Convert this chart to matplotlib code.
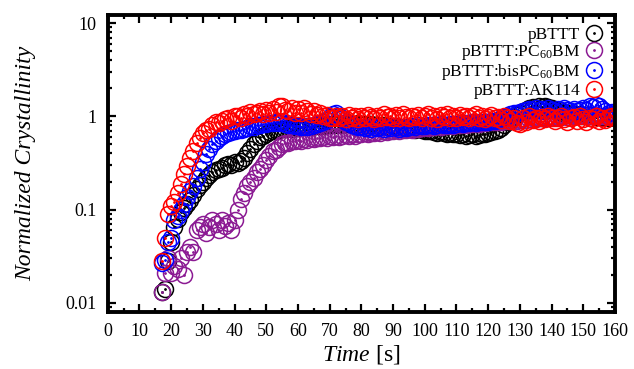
import matplotlib
matplotlib.use('Agg')
import matplotlib.pyplot as plt
from matplotlib.ticker import MultipleLocator, LogLocator, FixedLocator, FixedFormatter

plt.rcParams['font.family'] = ['Liberation Serif', 'DejaVu Serif']
plt.rcParams['mathtext.fontset'] = 'custom'
plt.rcParams['mathtext.rm'] = 'Liberation Serif'
plt.rcParams['mathtext.it'] = 'Liberation Serif:italic'

# time grid (s), one reading per second
time_s = list(range(17, 161))

pbttt = [0.013, 0.014, 0.028, 0.045, 0.065, 0.08, 0.095, 0.105, 0.115, 0.128,
         0.145, 0.165, 0.185, 0.2, 0.22, 0.235, 0.25, 0.265, 0.27, 0.28,
         0.3, 0.31, 0.3, 0.32, 0.315, 0.33, 0.36, 0.4, 0.45, 0.5,
         0.55, 0.6, 0.62, 0.65, 0.68, 0.7, 0.72, 0.71, 0.74, 0.73,
         0.75, 0.74, 0.76, 0.75, 0.77, 0.76, 0.78, 0.77, 0.79, 0.78,
         0.8, 0.79, 0.81, 0.8, 0.82, 0.8, 0.83, 0.81, 0.82, 0.84,
         0.83, 0.82, 0.84, 0.82, 0.83, 0.81, 0.82, 0.8, 0.81, 0.79,
         0.8, 0.78, 0.79, 0.77, 0.78, 0.76, 0.75, 0.76, 0.74, 0.73,
         0.72, 0.73, 0.71, 0.7, 0.69, 0.7, 0.68, 0.67, 0.68, 0.66,
         0.65, 0.66, 0.64, 0.65, 0.63, 0.64, 0.62, 0.63, 0.64, 0.62,
         0.63, 0.64, 0.65, 0.66, 0.68, 0.7, 0.72, 0.75, 0.8, 0.86,
         0.92, 0.98, 1.04, 1.1, 1.15, 1.18, 1.22, 1.25, 1.24, 1.28,
         1.26, 1.3, 1.25, 1.22, 1.18, 1.15, 1.1, 1.12, 1.08, 1.05,
         1.06, 1.03, 1.05, 1.02, 1.04, 1.0, 1.03, 0.99, 1.01, 0.98,
         1.0, 0.97, 0.99, 0.96]

pc60bm = [0.013, 0.021, 0.03, 0.021, 0.025, 0.023, 0.03, 0.02, 0.035, 0.04,
          0.035, 0.06, 0.065, 0.07, 0.056, 0.065, 0.078, 0.07, 0.06, 0.078,
          0.066, 0.072, 0.06, 0.078, 0.1, 0.13, 0.15, 0.18, 0.2, 0.22,
          0.25, 0.27, 0.3, 0.34, 0.38, 0.42, 0.44, 0.47, 0.5, 0.52,
          0.52, 0.55, 0.54, 0.56, 0.55, 0.57, 0.56, 0.58, 0.57, 0.59,
          0.58, 0.6, 0.59, 0.61, 0.6, 0.62, 0.6, 0.61, 0.63, 0.62,
          0.64, 0.62, 0.65, 0.64, 0.66, 0.65, 0.67, 0.66, 0.68, 0.67,
          0.69, 0.68, 0.7, 0.69, 0.71, 0.7, 0.72, 0.71, 0.73, 0.72,
          0.74, 0.73, 0.75, 0.76, 0.75, 0.77, 0.76, 0.78, 0.77, 0.79,
          0.78, 0.8, 0.79, 0.81, 0.8, 0.82, 0.81, 0.83, 0.82, 0.84,
          0.83, 0.85, 0.84, 0.86, 0.87, 0.86, 0.88, 0.87, 0.89, 0.9,
          0.89, 0.91, 0.9, 0.92, 0.93, 0.92, 0.94, 0.95, 0.94, 0.96,
          0.95, 0.97, 0.96, 0.98, 0.97, 0.99, 0.98, 1.0, 0.99, 1.01,
          1.0, 1.02, 1.01, 1.03, 1.0, 1.02, 1.01, 1.03, 1.0, 1.02,
          1.01, 1.03, 1.0, 1.02]

bispc60bm = [0.027, 0.029, 0.045, 0.05, 0.078, 0.085, 0.1, 0.115, 0.135, 0.16,
             0.18, 0.22, 0.27, 0.32, 0.39, 0.45, 0.5, 0.55, 0.58, 0.62,
             0.64, 0.66, 0.68, 0.69, 0.71, 0.72, 0.74, 0.75, 0.78, 0.77,
             0.8, 0.8, 0.82, 0.83, 0.85, 0.84, 0.87, 0.85, 0.86, 0.83,
             0.81, 0.8, 0.78, 0.79, 0.77, 0.78, 0.76, 0.79, 0.8, 0.82,
             0.85, 0.88, 0.92, 0.98, 1.05, 1.08, 1.02, 0.95, 0.88, 0.84,
             0.8, 0.78, 0.76, 0.77, 0.75, 0.76, 0.74, 0.77, 0.75, 0.76,
             0.74, 0.76, 0.75, 0.78, 0.76, 0.74, 0.77, 0.75, 0.76, 0.78,
             0.77, 0.8, 0.78, 0.79, 0.81, 0.8, 0.78, 0.8, 0.82, 0.8,
             0.81, 0.83, 0.8, 0.82, 0.84, 0.83, 0.85, 0.84, 0.86, 0.85,
             0.87, 0.86, 0.88, 0.87, 0.9, 0.89, 0.92, 0.95, 0.98, 1.02,
             1.05, 1.08, 1.1, 1.12, 1.15, 1.18, 1.2, 1.16, 1.22, 1.18,
             1.2, 1.15, 1.22, 1.17, 1.13, 1.2, 1.16, 1.22, 1.18, 1.14,
             1.2, 1.15, 1.18, 1.22, 1.16, 1.3, 1.25, 1.32, 1.28, 1.2,
             1.15, 1.1, 1.12, 1.08]

ak114 = [0.028, 0.05, 0.09, 0.11, 0.12, 0.15, 0.19, 0.24, 0.29, 0.36,
         0.43, 0.52, 0.58, 0.66, 0.72, 0.74, 0.8, 0.86, 0.84, 0.9,
         0.93, 0.97, 0.9, 1.0, 1.02, 0.96, 1.06, 1.02, 1.12, 1.05,
         1.1, 1.14, 1.07, 1.16, 1.1, 1.2, 1.12, 1.28, 1.3, 1.18,
         1.14, 1.24, 1.1, 1.2, 1.1, 1.22, 1.15, 1.06, 1.14, 1.04,
         1.1, 1.0, 1.04, 0.97, 0.95, 1.02, 0.96, 1.0, 0.94, 1.03,
         0.97, 1.01, 0.93, 1.0, 0.96, 1.04, 0.98, 0.94, 1.02, 0.97,
         1.05, 0.98, 1.0, 0.95, 1.03, 0.97, 1.06, 0.99, 0.95, 1.02,
         0.98, 1.04, 0.96, 1.0, 1.05, 0.97, 1.01, 0.94, 1.03, 0.99,
         1.06, 0.97, 1.0, 0.95, 1.04, 0.98, 1.02, 0.96, 1.0, 1.05,
         0.97, 1.01, 0.94, 0.99, 1.03, 0.95, 0.98, 0.92, 1.0, 0.96,
         0.9, 0.97, 0.85, 0.82, 0.95, 0.88, 1.0, 0.92, 0.97, 0.9,
         0.98, 0.93, 1.02, 0.95, 0.9, 0.97, 1.0, 0.93, 0.86, 0.95,
         0.98, 0.9, 1.0, 0.94, 0.87, 0.97, 0.93, 1.0, 0.9, 0.96,
         0.92, 0.98, 1.02, 0.95]

labels = ['pBTTT', r'pBTTT:PC$_{60}$BM', r'pBTTT:bisPC$_{60}$BM', 'pBTTT:AK114']
colors = ['#000000', '#8b1a93', '#0000ff', '#ff0000']
series = [pbttt, pc60bm, bispc60bm, ak114]

fig = plt.figure(figsize=(6.34, 3.69), dpi=100)
ax = fig.add_axes([0.170, 0.155, 0.800, 0.804])

handles = []
for y, c in zip(series, colors):
    circ, = ax.plot(time_s, y, 'o', mfc='none', mec=c, ms=11.5, mew=1.1, ls='none')
    dot, = ax.plot(time_s, y, 'o', color=c, ms=1.0, ls='none')
    handles.append((circ, dot))

ax.set_yscale('log')
ax.set_xlim(0, 160)
ax.set_ylim(0.008, 12.2)

ax.xaxis.set_major_locator(MultipleLocator(10))
ax.xaxis.set_minor_locator(MultipleLocator(5))
ax.yaxis.set_major_locator(FixedLocator([0.01, 0.1, 1, 10]))
ax.yaxis.set_major_formatter(FixedFormatter(['0.01', '0.1', '1', '10']))
ax.yaxis.set_minor_locator(LogLocator(base=10, subs=range(2, 10)))
ax.tick_params(which='both', direction='in', top=True, right=True,
               labelsize=13, width=1.6, pad=8)
ax.tick_params(which='major', length=6)
ax.tick_params(which='minor', length=3)
for s in ax.spines.values():
    s.set_linewidth(2.8)

ax.set_xlabel(r'$Time$ [s]', fontsize=17, labelpad=2)
ax.set_ylabel('Normalized Crystallinity', fontsize=17, style='italic', labelpad=21)

ax.legend(handles, labels, loc='upper right', markerfirst=False, frameon=False,
          fontsize=12.5, handlelength=1.0, handletextpad=0.3, labelspacing=0.0,
          borderaxespad=0.5, borderpad=0.2, markerscale=1.0)

fig.savefig('out.png', dpi=100)
